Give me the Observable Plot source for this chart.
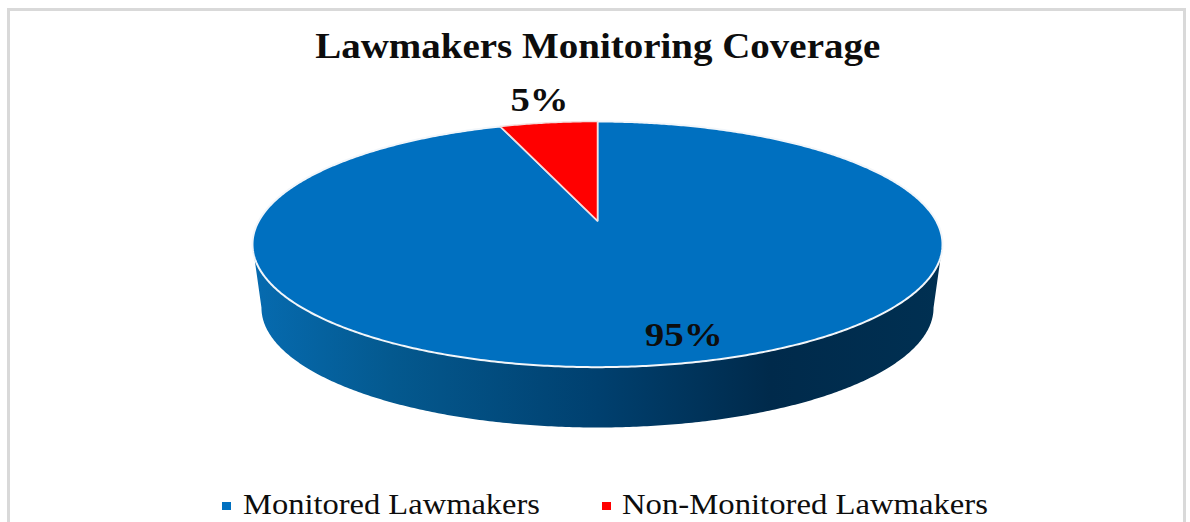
<!DOCTYPE html>
<html>
<head>
<meta charset="utf-8">
<script src="https://cdn.jsdelivr.net/npm/d3@7"></script>
<script src="https://cdn.jsdelivr.net/npm/@observablehq/plot@0.6"></script>
<style>
  html, body { margin: 0; padding: 0; background: #fff; }
  #page { position: relative; width: 1190px; height: 522px; overflow: hidden; font-family: "Liberation Serif", serif; color: #0d0d0d; }
  #frame { position: absolute; left: 7px; top: 8px; width: 1173px; height: 520px; border: 3px solid #d9d9d9; box-sizing: content-box; }
  #title { position: absolute; left: 0; width: 1195px; top: 27px; text-align: center; font-weight: bold; font-size: 35px; line-height: 40px; white-space: nowrap; }
  #title span { display: inline-block; }
  #chart { position: absolute; left: 0; top: 70px; }
  #legend span.t { position: absolute; top: 488px; font-size: 29px; line-height: 33px; white-space: nowrap; transform-origin: 0 50%; }
  #legend span.m { position: absolute; top: 502px; width: 9px; height: 8px; }
</style>
</head>
<body>
<div id="page">
  <div id="frame"></div>
  <div id="title"><span></span></div>
  <div id="chart"></div>
  <div id="legend"></div>
</div>
<script>
const chartTitle = "Lawmakers Monitoring Coverage";
const categories = ["Monitored Lawmakers", "Non-Monitored Lawmakers"];
const shares = [95, 5];
const shareLabels = ["95%", "5%"];
const sliceColors = ["#0070c0", "#ff0000"];

// View of the tilted 3D disc
const perspective = 0.1918;     // far rim is smaller than the near rim
const tilt = 0.3485;            // vertical squash of the disc
const sweepStretch = 1.1;       // on-screen widening of the top wedge
const baseScale = 0.974;        // the lower rim is a little smaller
const baseDrop = 0.189;         // disc thickness, in x units

function project(deg, scale = 1, drop = 0) {
  const t = deg * Math.PI / 180, s = Math.sin(t), c = Math.cos(t), w = 1 + perspective * c;
  return { x: scale * s / w, y: scale * tilt * c / w - drop };
}
function arc(from, to, scale, drop) {
  const n = Math.max(2, Math.ceil(Math.abs(to - from) * 2));
  return d3.range(n + 1).map(i => project(from + (to - from) * i / n, scale, drop));
}

// Slices run clockwise from 12 o'clock; the small one ends there.
const smallSweep = 360 * shares[1] / 100 * sweepStretch;
const hub = project(0, 0, 0);
const bigSlice = [hub, ...arc(0, 360 - smallSweep), hub];
const smallSlice = [hub, ...arc(360 - smallSweep, 360), hub];

// Side wall: near half of the lower rim joined to the near half of the upper rim
const edge = 180 / Math.PI * Math.acos(-perspective);
const wall = [...arc(edge, 360 - edge, baseScale, baseDrop), ...arc(360 - edge, edge)];

const bigMid = project(360 * (shares[0] / 2) / 100);
const smallMid = project(360 - smallSweep / 2);

const wallGradient = () => {
  const defs = d3.create("svg:defs");
  const g = defs.append("linearGradient").attr("id", "wallShade").attr("x1", 0).attr("x2", 1).attr("y1", 0).attr("y2", 0);
  [[0, "#066bb0"], [0.2, "#04598f"], [0.5, "#00406f"], [0.75, "#002a4b"], [1, "#003052"]]
    .forEach(([o, c]) => g.append("stop").attr("offset", o).attr("stop-color", c));
  return defs.node();
};

const xMax = 1 / Math.sqrt(1 - perspective * perspective);
const yTop = tilt / (1 + perspective);
const yBottom = -baseScale * tilt / (1 - perspective) - baseDrop;

const plot = Plot.plot({
  width: 1190,
  height: 370,
  marginLeft: 252,
  marginRight: 248,
  marginTop: 51,
  marginBottom: 13,
  x: { domain: [-xMax, xMax], axis: null },
  y: { domain: [yBottom, yTop], axis: null },
  marks: [
    wallGradient,
    Plot.line(wall, { x: "x", y: "y", fill: "url(#wallShade)", stroke: "none" }),
    Plot.line(bigSlice, { x: "x", y: "y", fill: sliceColors[0], stroke: "#f2f6fa", strokeWidth: 2 }),
    Plot.line(smallSlice, { x: "x", y: "y", fill: sliceColors[1], stroke: "#f4dede", strokeWidth: 1.5 }),
    Plot.text([shareLabels[1]], { x: smallMid.x, y: smallMid.y, dx: -9, dy: -23, fontSize: 34, fontWeight: "bold", fontFamily: "Liberation Serif", fill: "#0d0d0d", className: "small-label" }),
    Plot.text([shareLabels[0]], { x: bigMid.x, y: bigMid.y, dx: 21, dy: -30, fontSize: 34, fontWeight: "bold", fontFamily: "Liberation Serif", fill: "#0d0d0d", className: "big-label" })
  ]
});
document.getElementById("chart").append(plot);
plot.querySelectorAll(".small-label text").forEach(t => { t.setAttribute("textLength", 58); t.setAttribute("lengthAdjust", "spacingAndGlyphs"); });
plot.querySelectorAll(".big-label text").forEach(t => { t.setAttribute("textLength", 78); t.setAttribute("lengthAdjust", "spacingAndGlyphs"); });

const titleEl = document.querySelector("#title span");
titleEl.textContent = chartTitle;
titleEl.style.transform = `scaleX(${565 / titleEl.getBoundingClientRect().width})`;

// Legend under the chart
const legend = document.getElementById("legend");
const legendX = [{ m: 222, t: 243, w: 297 }, { m: 602, t: 622, w: 366 }];
categories.forEach((name, i) => {
  const m = document.createElement("span");
  m.className = "m"; m.style.left = legendX[i].m + "px"; m.style.background = sliceColors[i];
  const t = document.createElement("span");
  t.className = "t"; t.textContent = name; t.style.left = legendX[i].t + "px";
  legend.append(m, t);
  t.style.transform = `scaleX(${legendX[i].w / t.getBoundingClientRect().width})`;
});
</script>
</body>
</html>
